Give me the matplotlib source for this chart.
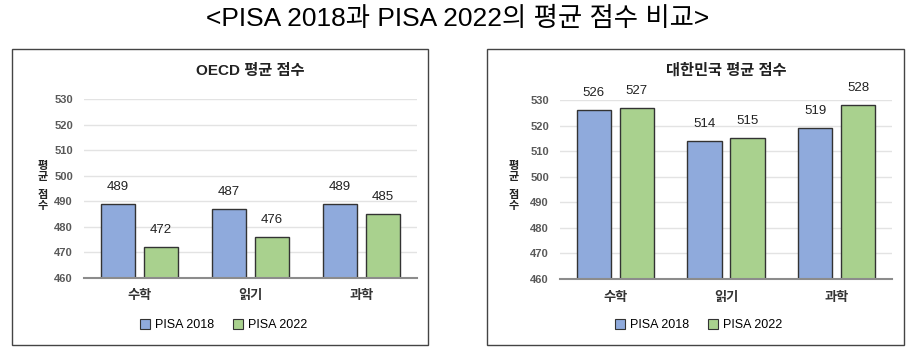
import matplotlib
matplotlib.use("Agg")
import matplotlib.pyplot as plt
from matplotlib.patches import Rectangle, Patch
import numpy as np

categories = ["수학", "읽기", "과학"]
series_names = ["PISA 2018", "PISA 2022"]
oecd_2018 = [489, 487, 489]
oecd_2022 = [472, 476, 485]
korea_2018 = [526, 514, 519]
korea_2022 = [527, 515, 528]
yticks = [460, 470, 480, 490, 500, 510, 520, 530]
main_title = "<PISA 2018과 PISA 2022의 평균 점수 비교>"
titles = ["OECD 평균 점수", "대한민국 평균 점수"]
ylabel_chars = ["평", "균", "점", "수"]

FONT = ["Liberation Sans", "Noto Sans CJK KR", "DejaVu Sans"]
plt.rcParams["font.family"] = FONT

W, H = 916, 353
fig = plt.figure(figsize=(W / 100, H / 100), dpi=100)
fig.patch.set_facecolor("white")

def px(x0, y0, x1, y1):
    return [x0 / W, 1 - y1 / H, (x1 - x0) / W, (y1 - y0) / H]

fig.text(458 / W, 1 - 19 / H, main_title, ha="center", va="center", fontsize=19,
         color="black")

blue = "#8FAADC"
green = "#A9D18E"
edge = "#333333"

panels = [
    dict(box=(12, 49, 428, 345), ax=(84, 99, 417, 278), d1=oecd_2018, d2=oecd_2022,
         title=titles[0], ylab_x=43, leg_x=224),
    dict(box=(487, 49, 904, 345), ax=(560, 100, 892, 279), d1=korea_2018, d2=korea_2022,
         title=titles[1], ylab_x=514, leg_x=699),
]

ylab_y = [166, 177, 195, 206]

for p in panels:
    bx0, by0, bx1, by1 = p["box"]
    fig.patches.append(Rectangle((bx0 / W, 1 - by1 / H), (bx1 - bx0) / W, (by1 - by0) / H,
                                 transform=fig.transFigure, fill=False, edgecolor="#444444",
                                 linewidth=1.0))
    ax = fig.add_axes(px(*p["ax"]))
    x = np.arange(len(categories))
    w = 0.31
    off = 0.195
    b1 = ax.bar(x - off, p["d1"], w, color=blue, edgecolor=edge, linewidth=1.0, zorder=3,
                label=series_names[0])
    b2 = ax.bar(x + off, p["d2"], w, color=green, edgecolor=edge, linewidth=1.0, zorder=3,
                label=series_names[1])
    for bars, vals in ((b1, p["d1"]), (b2, p["d2"])):
        for r, v in zip(bars, vals):
            ax.annotate(f"{v}", (r.get_x() + r.get_width() / 2, v), xytext=(0, 8),
                        textcoords="offset points", ha="center", va="bottom",
                        fontsize=9.5, color="#222222")
    ax.set_ylim(460, 530)
    ax.set_xlim(-0.5, 2.5)
    ax.set_yticks(yticks)
    ax.set_xticks(x)
    ax.set_xticklabels(categories, fontsize=9.5, fontweight="bold", color="#333333")
    for t in ax.get_yticklabels():
        t.set_fontsize(8)
        t.set_fontweight("bold")
        t.set_color("#595959")
    ax.tick_params(axis="y", length=0, pad=8)
    ax.tick_params(axis="x", length=0, pad=9)
    ax.grid(axis="y", color="#E3E3E3", linewidth=1.0, zorder=0)
    for s in ["top", "right", "left"]:
        ax.spines[s].set_visible(False)
    ax.spines["bottom"].set_color("#8C8C8C")
    ax.spines["bottom"].set_linewidth(1.5)
    ax.spines["bottom"].set_zorder(4)
    ax.set_facecolor("none")
    fig.text((p["ax"][0] + p["ax"][2]) / 2 / W, 1 - 71 / H, p["title"], ha="center",
             va="center", fontsize=11, fontweight="bold", color="#222222")
    for ch, yy in zip(ylabel_chars, ylab_y):
        fig.text(p["ylab_x"] / W, 1 - yy / H, ch, ha="center", va="center", fontsize=8,
                 fontweight="bold", color="#222222")
    handles = [Patch(facecolor=blue, edgecolor=edge, linewidth=0.8),
               Patch(facecolor=green, edgecolor=edge, linewidth=0.8)]
    fig.legend(handles, series_names, loc="center", bbox_to_anchor=(p["leg_x"] / W, 1 - 325 / H),
               ncol=2, frameon=False, fontsize=9, handlelength=0.8, handleheight=0.8,
               handletextpad=0.4, columnspacing=1.5, borderaxespad=0)

fig.savefig("out.png", dpi=100, facecolor="white")
